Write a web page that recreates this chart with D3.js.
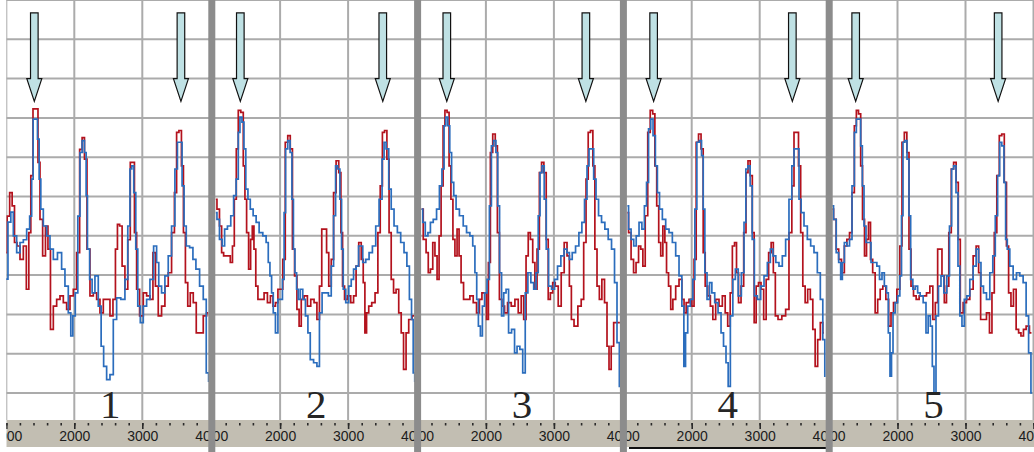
<!DOCTYPE html>
<html>
<head>
<meta charset="utf-8">
<script src="https://cdn.jsdelivr.net/npm/d3@7"></script>
<style>
  body { margin: 0; background: #fff; }
  svg { display: block; }
</style>
</head>
<body>
<svg id="chart" width="1034" height="452"></svg>
<script>
/* ---------- data (x: wavenumber, y: grid units) ---------- */
const panelLabels = ['1', '2', '3', '4', '5'];
const tickValues = [1000, 2000, 3000, 4000];
const minorTicks = d3.range(1000, 4001, 200);
const arrowsAt = [[1412, 3568], [1415, 3510], [1425, 3470], [1440, 3480], [1385, 3480]];

const blue1 = [[995,2.9],[1054,4.35],[1079,4.6],[1128,4.0],[1177,3.57],[1226,3.83],[1275,3.9],[1324,4.17],[1363,4.5],[1383,5.44],[1407,6.97],[1446,6.97],[1471,6.46],[1495,5.44],[1520,4.68],[1569,4.25],[1618,4.0],[1667,3.66],[1716,3.4],[1789,3.57],[1838,3.15],[1887,2.72],[1936,2.04],[1961,1.45],[1995,1.96],[2034,2.55],[2069,4.5],[2098,6.12],[2132,6.42],[2167,6.12],[2181,5.02],[2206,3.66],[2245,2.89],[2279,2.55],[2328,2.98],[2377,2.21],[2412,1.19],[2451,0.68],[2500,0.34],[2549,0.47],[2598,1.87],[2647,2.42],[2720,2.38],[2769,2.89],[2804,4.25],[2833,5.7],[2857,5.78],[2892,5.1],[2916,3.66],[2951,2.21],[2990,1.79],[3039,2.21],[3088,2.38],[3137,2.89],[3196,3.74],[3225,3.32],[3259,2.72],[3308,2.55],[3357,2.98],[3406,3.49],[3455,4.25],[3504,5.7],[3529,6.38],[3568,6.38],[3602,5.27],[3627,4.25],[3666,3.74],[3725,3.7],[3764,3.4],[3813,3.15],[3872,2.72],[3921,2.38],[3960,0.51],[3990,0.3]];
const red1 = [[995,3.57],[1030,4.5],[1069,5.1],[1103,4.76],[1138,3.83],[1177,3.74],[1226,3.4],[1275,3.74],[1314,2.64],[1348,4.08],[1373,5.53],[1412,7.23],[1451,7.23],[1481,5.87],[1510,4.42],[1559,3.49],[1593,4.25],[1632,3.66],[1667,1.62],[1716,2.21],[1765,2.38],[1814,2.47],[1863,2.3],[1912,2.13],[1961,2.47],[2010,2.64],[2059,3.57],[2098,6.2],[2132,6.5],[2167,5.95],[2206,3.66],[2255,2.47],[2304,2.55],[2353,2.38],[2402,2.04],[2451,2.38],[2500,2.38],[2549,1.96],[2588,2.38],[2622,3.66],[2647,4.29],[2686,4.25],[2720,3.23],[2769,2.64],[2804,3.9],[2843,5.87],[2867,5.87],[2902,4.08],[2931,2.64],[2990,1.96],[3039,2.55],[3088,2.47],[3137,2.38],[3176,3.57],[3210,2.72],[3259,1.96],[3308,2.21],[3357,2.72],[3406,3.06],[3455,4.08],[3490,5.1],[3519,6.63],[3558,6.68],[3593,5.78],[3617,4.08],[3651,2.81],[3686,2.21],[3725,2.55],[3774,2.3],[3813,1.53],[3872,1.53],[3921,1.96],[3970,2.04]];

const blue2 = [[1054,4.59],[1089,4.42],[1128,3.91],[1167,3.74],[1201,4.17],[1250,4.25],[1299,4.51],[1334,5.02],[1373,5.44],[1397,6.63],[1422,7.02],[1456,6.89],[1481,6.21],[1510,5.19],[1544,4.93],[1579,4.68],[1628,4.51],[1667,4.34],[1716,4.08],[1775,4.0],[1814,3.83],[1838,3.32],[1863,2.98],[1887,2.55],[1912,2.04],[1951,1.53],[1985,2.38],[2020,2.38],[2049,2.89],[2069,4.59],[2093,6.21],[2132,6.42],[2162,6.12],[2186,4.93],[2206,3.66],[2230,3.06],[2255,2.64],[2279,2.38],[2314,2.64],[2353,2.38],[2392,1.96],[2426,1.53],[2461,0.85],[2524,0.77],[2559,0.68],[2598,2.04],[2637,2.55],[2686,2.55],[2735,2.47],[2769,3.23],[2804,4.51],[2828,5.78],[2867,5.7],[2892,4.93],[2916,3.66],[2941,2.64],[2990,2.3],[3029,2.72],[3063,2.89],[3098,3.15],[3137,3.23],[3171,3.74],[3196,3.74],[3235,3.32],[3284,3.4],[3333,3.57],[3382,3.74],[3431,4.25],[3480,4.93],[3519,5.95],[3539,6.38],[3578,6.21],[3617,5.19],[3651,4.68],[3700,4.25],[3749,4.08],[3798,3.83],[3847,3.57],[3882,3.23],[3921,2.38],[3945,1.87],[3970,0.51],[3990,0.3]];
const red2 = [[1054,4.93],[1089,4.68],[1128,4.25],[1152,3.57],[1187,3.49],[1250,3.49],[1285,3.32],[1314,3.74],[1339,4.93],[1373,6.21],[1397,7.19],[1446,7.14],[1471,5.78],[1495,4.93],[1520,4.08],[1554,3.15],[1579,3.91],[1603,4.25],[1628,3.66],[1657,2.72],[1691,2.38],[1740,2.38],[1789,2.55],[1838,2.3],[1877,2.47],[1912,2.21],[1951,2.3],[1985,2.64],[2020,2.64],[2059,3.4],[2093,6.38],[2132,6.55],[2167,6.21],[2196,3.66],[2230,2.98],[2265,2.13],[2294,1.7],[2328,2.38],[2377,2.47],[2426,2.21],[2475,2.38],[2524,2.3],[2559,1.87],[2598,2.72],[2627,4.17],[2671,4.17],[2696,3.57],[2735,2.72],[2769,3.4],[2804,5.1],[2843,5.91],[2882,5.61],[2906,4.08],[2931,2.72],[2965,2.38],[3014,2.47],[3063,2.3],[3098,2.47],[3137,3.23],[3176,3.83],[3210,3.4],[3235,2.81],[3259,1.53],[3284,2.04],[3323,2.21],[3372,2.3],[3421,2.55],[3455,4.08],[3490,5.27],[3519,6.63],[3553,6.68],[3588,5.95],[3617,4.08],[3651,2.89],[3686,2.55],[3725,2.64],[3764,2.04],[3798,1.53],[3833,0.6],[3872,1.53],[3911,1.87],[3970,1.96]];

const blue3 = [[1054,4.68],[1089,4.34],[1128,4.0],[1167,4.08],[1201,4.34],[1250,4.42],[1299,4.68],[1334,5.27],[1373,5.7],[1397,6.8],[1422,7.02],[1456,6.8],[1481,6.12],[1510,5.36],[1544,5.02],[1579,4.68],[1642,4.51],[1691,4.25],[1740,4.08],[1789,4.0],[1824,3.74],[1853,3.06],[1877,2.38],[1902,1.7],[1936,1.45],[1961,2.21],[2000,2.55],[2034,2.89],[2069,4.76],[2093,6.29],[2132,6.42],[2162,6.12],[2186,4.76],[2216,3.06],[2245,1.96],[2279,2.55],[2314,2.64],[2353,1.53],[2402,1.62],[2441,1.02],[2475,1.19],[2524,1.11],[2559,0.51],[2598,2.55],[2637,3.06],[2686,2.81],[2720,2.64],[2755,3.06],[2784,4.51],[2808,5.61],[2843,5.78],[2872,4.93],[2902,3.66],[2941,2.72],[2990,2.64],[3029,2.89],[3078,3.23],[3127,3.49],[3171,3.66],[3210,3.57],[3245,3.4],[3294,3.57],[3343,3.74],[3392,4.08],[3431,4.34],[3470,4.93],[3504,5.78],[3529,6.21],[3568,6.21],[3602,5.44],[3637,4.93],[3676,4.51],[3725,4.34],[3774,4.17],[3823,3.91],[3872,3.66],[3911,2.81],[3945,1.28],[3980,0.17]];
const red3 = [[1054,4.68],[1103,3.91],[1138,3.57],[1167,3.06],[1201,3.15],[1236,3.83],[1265,3.49],[1299,2.89],[1324,4.0],[1358,5.27],[1383,6.8],[1412,7.19],[1446,7.14],[1471,5.78],[1500,4.93],[1530,3.91],[1559,3.49],[1593,4.17],[1618,3.49],[1652,2.81],[1691,2.38],[1740,2.38],[1789,2.47],[1838,2.3],[1887,2.04],[1922,2.38],[1961,2.55],[1995,2.55],[2025,1.87],[2049,3.32],[2083,6.12],[2118,6.59],[2157,6.29],[2181,4.08],[2216,2.38],[2255,2.21],[2294,2.04],[2343,2.3],[2402,2.21],[2451,2.38],[2500,2.04],[2539,2.47],[2573,1.87],[2608,3.49],[2637,4.08],[2671,3.91],[2706,3.32],[2735,2.64],[2769,3.66],[2804,5.61],[2833,5.87],[2872,5.61],[2902,3.91],[2931,2.38],[2965,2.55],[3000,2.81],[3039,2.72],[3088,2.21],[3127,3.06],[3176,3.83],[3210,3.49],[3245,2.72],[3269,1.87],[3323,1.7],[3382,2.21],[3421,2.38],[3455,3.83],[3490,5.44],[3519,6.63],[3558,6.68],[3588,5.78],[3617,3.66],[3651,2.72],[3686,2.38],[3725,2.89],[3764,2.3],[3798,1.19],[3823,0.6],[3862,1.19],[3896,1.79],[3970,1.79]];

const blue4 = [[1054,4.76],[1089,4.17],[1128,3.91],[1167,3.74],[1201,4.0],[1250,4.34],[1285,4.17],[1324,4.76],[1348,5.36],[1383,6.72],[1412,6.97],[1451,6.55],[1481,5.78],[1510,5.1],[1544,4.68],[1593,4.42],[1642,4.17],[1691,4.08],[1740,3.83],[1789,3.49],[1838,2.98],[1873,2.21],[1897,0.68],[1922,1.53],[1961,2.21],[2000,2.38],[2034,2.89],[2059,4.68],[2093,6.38],[2132,6.42],[2157,6.04],[2181,4.68],[2206,3.06],[2245,2.38],[2279,2.81],[2314,2.55],[2363,2.3],[2412,2.04],[2451,1.53],[2485,1.19],[2524,0.77],[2549,0.17],[2588,1.96],[2622,2.89],[2662,3.15],[2706,2.47],[2755,3.06],[2784,4.34],[2808,5.7],[2843,5.78],[2877,5.27],[2902,3.91],[2941,2.47],[2990,2.38],[3039,2.72],[3088,2.98],[3137,3.32],[3176,3.66],[3215,3.49],[3259,3.32],[3308,3.23],[3357,3.49],[3406,3.91],[3455,4.93],[3490,5.78],[3519,6.21],[3563,6.21],[3593,4.93],[3627,4.59],[3676,4.25],[3725,3.91],[3774,3.74],[3823,3.57],[3872,3.06],[3911,2.38],[3945,1.36],[3970,0.43]];
const red4 = [[1054,4.59],[1089,4.08],[1128,3.4],[1162,3.06],[1201,3.32],[1236,3.74],[1265,3.66],[1299,3.23],[1334,4.51],[1373,6.63],[1407,7.19],[1446,7.1],[1471,5.78],[1500,4.76],[1530,3.83],[1559,3.49],[1593,4.25],[1618,3.83],[1642,3.06],[1677,2.72],[1706,2.13],[1740,2.38],[1789,2.72],[1838,2.89],[1873,2.38],[1902,2.04],[1936,2.3],[1985,2.38],[2020,2.21],[2049,3.4],[2083,6.38],[2118,6.59],[2157,6.21],[2181,3.57],[2216,2.72],[2255,2.47],[2294,2.21],[2328,1.87],[2377,2.38],[2426,2.21],[2475,2.47],[2510,2.04],[2549,1.7],[2583,2.55],[2613,3.74],[2647,3.83],[2671,3.06],[2706,2.3],[2745,2.72],[2784,4.08],[2813,5.61],[2843,5.91],[2877,5.53],[2906,4.08],[2931,1.79],[2965,2.72],[3000,2.81],[3039,2.64],[3078,1.87],[3112,2.89],[3151,3.57],[3186,3.83],[3215,3.06],[3245,1.96],[3294,1.87],[3357,1.96],[3406,2.13],[3455,4.08],[3490,5.27],[3519,6.63],[3553,6.63],[3588,5.78],[3617,4.08],[3651,2.72],[3686,2.3],[3725,2.64],[3764,2.38],[3798,1.62],[3833,0.68],[3872,1.36],[3911,1.79],[3945,1.53]];

const blue5 = [[1040,4.76],[1079,4.42],[1118,3.57],[1152,3.32],[1177,2.89],[1201,3.32],[1236,3.83],[1275,3.74],[1314,3.91],[1348,5.27],[1383,6.63],[1407,6.97],[1446,6.97],[1471,6.29],[1495,5.27],[1520,4.25],[1554,3.83],[1593,3.83],[1628,3.32],[1677,3.32],[1716,3.23],[1755,2.89],[1789,3.06],[1824,2.72],[1853,2.55],[1877,1.53],[1902,0.43],[1922,1.02],[1946,2.04],[1985,2.3],[2020,2.47],[2049,2.98],[2069,4.51],[2093,6.38],[2123,6.42],[2157,5.95],[2181,4.51],[2206,2.89],[2245,2.64],[2279,2.72],[2314,2.55],[2353,2.47],[2402,2.3],[2436,1.53],[2466,1.96],[2500,1.7],[2524,0.68],[2549,0.0],[2583,1.96],[2622,2.72],[2657,2.98],[2706,2.55],[2745,2.98],[2784,4.25],[2808,5.7],[2843,5.78],[2877,5.1],[2902,3.23],[2931,1.96],[2965,1.7],[3000,2.38],[3039,2.47],[3088,2.89],[3137,3.23],[3176,3.66],[3210,3.32],[3245,2.72],[3284,2.55],[3333,2.38],[3382,3.06],[3421,3.49],[3455,4.51],[3490,5.53],[3514,6.38],[3553,6.29],[3578,5.36],[3602,3.91],[3627,3.66],[3676,3.23],[3725,2.89],[3774,3.06],[3823,2.98],[3872,2.81],[3911,1.96],[3945,1.02],[3980,0.0]];
const red5 = [[1040,4.68],[1079,4.42],[1118,3.66],[1152,3.4],[1201,3.06],[1236,3.74],[1275,3.91],[1314,4.08],[1348,5.1],[1383,6.8],[1407,7.19],[1446,7.1],[1471,5.78],[1500,4.42],[1530,3.49],[1559,3.91],[1588,4.34],[1618,3.4],[1652,3.06],[1691,2.04],[1726,2.38],[1765,2.64],[1804,2.72],[1853,2.38],[1887,1.7],[1922,2.04],[1961,2.3],[2020,2.64],[2049,3.74],[2083,6.38],[2118,6.63],[2157,6.12],[2181,3.66],[2216,2.72],[2255,2.47],[2294,2.38],[2343,2.47],[2402,2.47],[2451,2.55],[2500,2.72],[2539,1.87],[2573,2.3],[2608,3.66],[2637,3.66],[2671,2.98],[2706,2.3],[2735,2.72],[2774,4.08],[2808,5.7],[2843,5.87],[2882,5.36],[2906,3.91],[2941,2.04],[2990,2.3],[3039,2.38],[3088,2.64],[3137,3.49],[3176,3.74],[3210,3.06],[3235,1.87],[3284,1.87],[3333,2.04],[3372,1.53],[3406,2.55],[3441,4.08],[3480,5.53],[3514,6.55],[3553,6.59],[3588,5.36],[3617,3.74],[3651,2.55],[3686,2.21],[3725,2.64],[3764,1.62],[3798,1.53],[3833,1.45],[3872,1.62],[3911,1.7],[3970,1.53]];

const blueSeries = [blue1, blue2, blue3, blue4, blue5];
const redSeries = [red1, red2, red3, red4, red5];

/* ---------- layout ---------- */
const width = 1034, height = 452;
const panelStep = 205.8;
const bandTop = 420, bandBottom = 447;
const COLORS = { blue: '#2b6dbd', red: '#b3121d', grid: '#ababab', band: '#c2beb2', divider: '#8c8c8c', arrow: '#bfe1e4' };

const svg = d3.select('#chart');
svg.append('rect').attr('width', width).attr('height', height).attr('fill', '#fff');

const y = d3.scaleLinear().domain([0, 10]).range([393, 0]);
const defs = svg.append('defs');

panelLabels.forEach((label, i) => {
  const x = d3.scaleLinear().domain([1000, 4000]).range([6.3 + panelStep * i, 210.3 + panelStep * i]);
  const left = i === 0 ? x(1000) : x(1000) - 4;
  const right = x(4000) + 3;

  defs.append('clipPath').attr('id', `clip-${i}`)
    .append('rect').attr('x', left).attr('y', 0).attr('width', right - left).attr('height', height);

  const g = svg.append('g').attr('clip-path', `url(#clip-${i})`);

  // grid
  g.selectAll('.hgrid').data(d3.range(0, 11)).enter().append('line')
    .attr('x1', left).attr('x2', right)
    .attr('y1', d => y(d)).attr('y2', d => y(d))
    .attr('stroke', COLORS.grid).attr('stroke-width', 2);
  g.selectAll('.vgrid').data(tickValues).enter().append('line')
    .attr('x1', d => x(d)).attr('x2', d => x(d))
    .attr('y1', 0).attr('y2', bandTop)
    .attr('stroke', COLORS.grid).attr('stroke-width', 2);

  // spectra
  const line = d3.line().x(d => x(d[0])).y(d => y(d[1])).curve(d3.curveStep);
  g.append('path').datum(redSeries[i])
    .attr('fill', 'none').attr('stroke', COLORS.red).attr('stroke-width', 1.7).attr('d', line);
  g.append('path').datum(blueSeries[i])
    .attr('fill', 'none').attr('stroke', COLORS.blue).attr('stroke-width', 1.7).attr('d', line);

  // arrows
  arrowsAt[i].forEach(a => {
    const cx = x(a), tip = y(7.42), top = y(9.67), neck = y(8.0);
    const sw = 3.8, hw = 7.5;
    const pts = [[cx - sw, top], [cx + sw, top], [cx + sw, neck], [cx + hw, neck],
                 [cx, tip], [cx - hw, neck], [cx - sw, neck]];
    g.append('path').attr('d', 'M' + pts.join('L') + 'Z')
      .attr('fill', COLORS.arrow).attr('stroke', '#111').attr('stroke-width', 1.2);
  });

  // panel number
  g.append('text').attr('x', x(2530)).attr('y', bandTop - 2)
    .attr('text-anchor', 'middle')
    .attr('font-family', '"Liberation Serif", "Times New Roman", serif')
    .attr('font-size', 41).attr('fill', '#262626')
    .text(label);

  // axis band
  g.append('rect').attr('x', left).attr('y', bandTop)
    .attr('width', right - left).attr('height', bandBottom - bandTop)
    .attr('fill', COLORS.band);

  const minor = g.append('g').attr('transform', `translate(0,${bandTop + 3})`)
    .call(d3.axisBottom(x).tickValues(minorTicks).tickSize(2.5).tickFormat(''));
  minor.select('.domain').remove();
  minor.selectAll('line').attr('stroke', '#2a2a2a').attr('stroke-width', 1.6);

  const major = g.append('g').attr('transform', `translate(0,${bandTop + 3})`)
    .call(d3.axisBottom(x).tickValues(tickValues).tickSize(6).tickPadding(2.5).tickFormat(d3.format('d')));
  major.select('.domain').remove();
  major.selectAll('line').attr('stroke', '#2a2a2a').attr('stroke-width', 1.6);
  major.selectAll('text')
    .attr('font-family', '"Liberation Sans", Arial, sans-serif')
    .attr('font-size', 14).attr('fill', '#1c1c1c');
});

// selection marker under panel 4
svg.append('rect').attr('x', 629).attr('y', 447).attr('width', 197).attr('height', 2).attr('fill', '#111');

// panel dividers
svg.selectAll('.divider').data(d3.range(1, panelLabels.length)).enter().append('rect')
  .attr('x', k => 208.3 + panelStep * (k - 1))
  .attr('y', 0).attr('width', 7).attr('height', height)
  .attr('fill', COLORS.divider);
</script>
</body>
</html>
